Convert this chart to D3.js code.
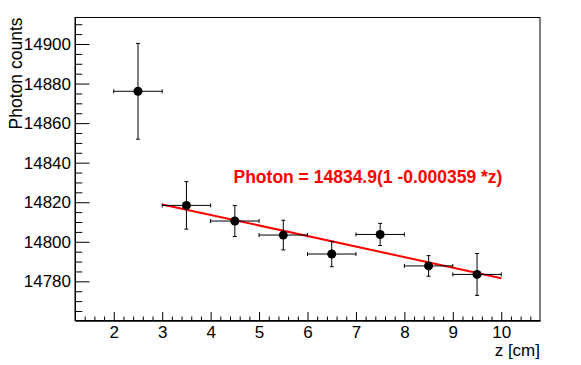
<!DOCTYPE html>
<html>
<head>
<meta charset="utf-8">
<script src="https://cdn.jsdelivr.net/npm/d3@7"></script>
<style>
  body { margin: 0; background: #fff; }
  svg { display: block; font-family: "Liberation Sans", Arial, sans-serif; }
</style>
</head>
<body>
<div id="chart"></div>
<script>
// data
const zValues = [2.5, 3.5, 4.5, 5.5, 6.5, 7.5, 8.5, 9.5];
const zErrors = [0.5, 0.5, 0.5, 0.5, 0.5, 0.5, 0.5, 0.5];
const photonValues = [14876.1, 14818.4, 14810.5, 14803.4, 14793.8, 14803.7, 14787.8, 14783.5];
const photonErrors = [24.2, 12.0, 7.8, 7.5, 6.4, 5.6, 5.2, 10.6];
const fitZ = [3, 10];
const fitPhoton = [14818.9, 14781.6];
const xTicks = [2, 3, 4, 5, 6, 7, 8, 9, 10];
const yTicks = [14780, 14800, 14820, 14840, 14860, 14880, 14900];
const fitLabel = "Photon = 14834.9(1 -0.000359 *z)";

const WIDTH = 581, HEIGHT = 365;
const margin = { left: 75, right: 41, top: 17.5, bottom: 44.5 };

const svg = d3.select("#chart").append("svg")
    .attr("width", WIDTH)
    .attr("height", HEIGHT);

const xScale = d3.scaleLinear()
    .domain([1.2, 10.8])
    .range([margin.left, WIDTH - margin.right]);
const yScale = d3.scaleLinear()
    .domain([14760.2, 14913.4])
    .range([HEIGHT - margin.bottom, margin.top]);

const plotW = WIDTH - margin.left - margin.right;
const plotH = HEIGHT - margin.top - margin.bottom;

// frame
svg.append("rect")
   .attr("x", margin.left)
   .attr("y", margin.top)
   .attr("width", plotW)
   .attr("height", plotH)
   .attr("fill", "none")
   .attr("stroke", "#000")
   .attr("stroke-width", 1);

// minor ticks
const xMinor = d3.range(7, 54).map(d => d / 5).filter(d => !xTicks.includes(d));
const yMinor = d3.range(14765, 14911, 5).filter(d => !yTicks.includes(d));

const xAxisG = svg.append("g")
    .attr("transform", "translate(0," + (HEIGHT - margin.bottom) + ")");
xAxisG.append("g")
    .call(d3.axisBottom(xScale).tickValues(xMinor).tickFormat("").tickSizeInner(-4).tickSizeOuter(0));
xAxisG.append("g")
    .call(d3.axisBottom(xScale).tickValues(xTicks).tickFormat(d3.format("d"))
        .tickSizeInner(-8.5).tickSizeOuter(0).tickPadding(5));

const yAxisG = svg.append("g")
    .attr("transform", "translate(" + margin.left + ",0)");
yAxisG.append("g")
    .call(d3.axisLeft(yScale).tickValues(yMinor).tickFormat("").tickSizeInner(-7.3).tickSizeOuter(0));
yAxisG.append("g")
    .call(d3.axisLeft(yScale).tickValues(yTicks).tickFormat(d3.format("d"))
        .tickSizeInner(-14.5).tickSizeOuter(0).tickPadding(4));

svg.selectAll(".domain").attr("stroke", "#000");
svg.selectAll(".tick line").attr("stroke", "#000");
svg.selectAll(".tick text")
   .attr("font-size", 17)
   .attr("font-family", "'Liberation Sans', Arial, sans-serif")
   .attr("fill", "#000");
xAxisG.selectAll(".tick text").attr("dy", "0.71em");

// axis titles
svg.append("text")
   .attr("x", WIDTH - margin.right)
   .attr("y", 356)
   .attr("text-anchor", "end")
   .attr("font-size", 17)
   .text("z [cm]");

svg.append("text")
   .attr("transform", "translate(22," + margin.top + ") rotate(-90)")
   .attr("text-anchor", "end")
   .attr("font-size", 17.5)
   .text("Photon counts");

// fit line
svg.append("line")
   .attr("x1", xScale(fitZ[0]))
   .attr("y1", yScale(fitPhoton[0]))
   .attr("x2", xScale(fitZ[1]))
   .attr("y2", yScale(fitPhoton[1]))
   .attr("stroke", "#ff0000")
   .attr("stroke-width", 2);

// points with error bars
const points = zValues.map((z, i) => ({
    z: z, ez: zErrors[i], v: photonValues[i], ev: photonErrors[i]
}));
const pts = svg.append("g").selectAll("g")
    .data(points)
    .enter()
    .append("g")
    .attr("stroke", "#000")
    .attr("stroke-width", 1);

pts.append("line")
   .attr("x1", d => xScale(d.z - d.ez)).attr("x2", d => xScale(d.z + d.ez))
   .attr("y1", d => yScale(d.v)).attr("y2", d => yScale(d.v));
pts.append("line")
   .attr("x1", d => xScale(d.z)).attr("x2", d => xScale(d.z))
   .attr("y1", d => yScale(d.v - d.ev)).attr("y2", d => yScale(d.v + d.ev));
// caps
const cap = 2;
[-1, 1].forEach(s => {
    pts.append("line")
       .attr("x1", d => xScale(d.z + s * d.ez)).attr("x2", d => xScale(d.z + s * d.ez))
       .attr("y1", d => yScale(d.v) - cap).attr("y2", d => yScale(d.v) + cap);
    pts.append("line")
       .attr("x1", d => xScale(d.z) - cap).attr("x2", d => xScale(d.z) + cap)
       .attr("y1", d => yScale(d.v + s * d.ev)).attr("y2", d => yScale(d.v + s * d.ev));
});
pts.append("circle")
   .attr("cx", d => xScale(d.z))
   .attr("cy", d => yScale(d.v))
   .attr("r", 4.5)
   .attr("fill", "#000")
   .attr("stroke", "none");

// fit label
svg.append("text")
   .attr("x", 233.5)
   .attr("y", 183.3)
   .attr("fill", "#ff0000")
   .attr("font-weight", "bold")
   .attr("font-size", 17.5)
   .text(fitLabel);
</script>
</body>
</html>
